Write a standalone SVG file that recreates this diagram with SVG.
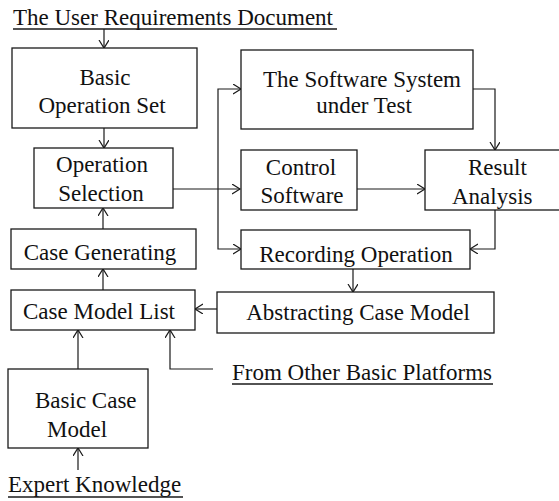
<svg xmlns="http://www.w3.org/2000/svg" width="559" height="501" viewBox="0 0 559 501">
<defs>
<marker id="arr" markerUnits="userSpaceOnUse" markerWidth="12" markerHeight="12" refX="8" refY="5" orient="auto">
<path d="M0,0 L8,5 L0,10" fill="none" stroke="#1a1a1a" stroke-width="1.2"/>
</marker>
<style>
.box{fill:#fff;stroke:#1a1a1a;stroke-width:1.3}
.t{font-family:"Liberation Serif","Times New Roman",serif;font-size:23px;fill:#111}
.c{text-anchor:middle}
.ln{fill:none;stroke:#1a1a1a;stroke-width:1.2}
.ul{stroke:#1a1a1a;stroke-width:1.4}
</style>
</defs>
<rect width="559" height="501" fill="#fff"/>
<g id="connectors">
<path class="ln" d="M104,29 V48" marker-end="url(#arr)"/>
<path class="ln" d="M104,128 V148" marker-end="url(#arr)"/>
<path class="ln" d="M173,189 H240" marker-end="url(#arr)"/>
<path class="ln" d="M218,189 V89 H241" marker-end="url(#arr)"/>
<path class="ln" d="M218,189 V249 H241" marker-end="url(#arr)"/>
<path class="ln" d="M473,89 H495 V150" marker-end="url(#arr)"/>
<path class="ln" d="M357,189 H425" marker-end="url(#arr)"/>
<path class="ln" d="M495,210 V249 H470" marker-end="url(#arr)"/>
<path class="ln" d="M353,269 V292" marker-end="url(#arr)"/>
<path class="ln" d="M217,309 H195" marker-end="url(#arr)"/>
<path class="ln" d="M103,229 V208" marker-end="url(#arr)"/>
<path class="ln" d="M103,290 V269" marker-end="url(#arr)"/>
<path class="ln" d="M78,369 V330" marker-end="url(#arr)"/>
<path class="ln" d="M78,470 V448" marker-end="url(#arr)"/>
<path class="ln" d="M213,369 H170 V330" marker-end="url(#arr)"/>
</g>
<g id="userReq">
<text class="t" x="13" y="25">The User Requirements Document</text>
<line class="ul" x1="13" y1="29" x2="337" y2="29"/>
</g>
<g id="basicOpSet">
<rect class="box" x="12" y="48" width="185" height="80"/>
<text class="t c" x="105" y="85">Basic</text>
<text class="t c" x="102" y="113">Operation Set</text>
</g>
<g id="opSelection">
<rect class="box" x="34" y="148" width="139" height="60"/>
<text class="t c" x="102" y="172">Operation</text>
<text class="t c" x="101" y="201">Selection</text>
</g>
<g id="softwareSystem">
<rect class="box" x="241" y="50" width="232" height="79"/>
<text class="t c" x="362" y="87">The Software System</text>
<text class="t c" x="364" y="113">under Test</text>
</g>
<g id="controlSoftware">
<rect class="box" x="241" y="150" width="116" height="60"/>
<text class="t c" x="301" y="175">Control</text>
<text class="t c" x="302" y="203">Software</text>
</g>
<g id="resultAnalysis">
<rect class="box" x="425" y="150" width="140" height="60"/>
<text class="t" x="468" y="175">Result</text>
<text class="t" x="452" y="204">Analysis</text>
</g>
<g id="recording">
<rect class="box" x="241" y="230" width="229" height="39"/>
<text class="t c" x="356" y="262">Recording Operation</text>
</g>
<g id="abstracting">
<rect class="box" x="217" y="292" width="277" height="41"/>
<text class="t c" x="358" y="320">Abstracting Case Model</text>
</g>
<g id="caseGenerating">
<rect class="box" x="11" y="229" width="185" height="40"/>
<text class="t c" x="100" y="260">Case Generating</text>
</g>
<g id="caseModelList">
<rect class="box" x="11" y="290" width="184" height="40"/>
<text class="t c" x="99" y="319">Case Model List</text>
</g>
<g id="basicCaseModel">
<rect class="box" x="8" y="369" width="140" height="79"/>
<text class="t" x="35" y="408">Basic Case</text>
<text class="t" x="47" y="437">Model</text>
</g>
<g id="otherPlatforms">
<text class="t" x="232" y="380">From Other Basic Platforms</text>
<line class="ul" x1="232" y1="384" x2="493" y2="384"/>
</g>
<g id="expertKnowledge">
<text class="t" x="8" y="492">Expert Knowledge</text>
<line class="ul" x1="8" y1="497" x2="183" y2="497"/>
</g>
</svg>
